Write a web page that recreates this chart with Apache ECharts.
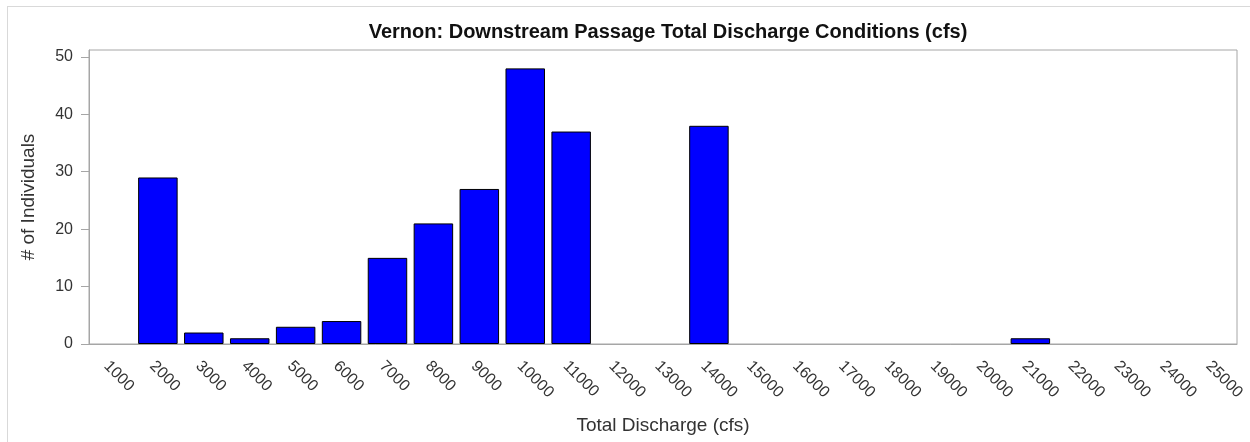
<!DOCTYPE html>
<html>
<head>
<meta charset="utf-8">
<script src="https://cdn.jsdelivr.net/npm/echarts@6/dist/echarts.min.js"></script>
<style>
html,body{margin:0;padding:0;background:#fff;}
#frame{position:absolute;left:7px;top:6px;width:1243px;height:436px;border-top:1px solid #d9d9d9;border-left:1px solid #d9d9d9;}
#chart{position:absolute;left:0;top:0;width:1250px;height:442px;}
</style>
</head>
<body>
<div id="frame"></div>
<div id="chart"></div>
<script>
const categories = ['1000','2000','3000','4000','5000','6000','7000','8000','9000','10000','11000','12000','13000','14000','15000','16000','17000','18000','19000','20000','21000','22000','23000','24000','25000'];
const counts = [0,29,2,1,3,4,15,21,27,48,37,0,0,38,0,0,0,0,0,0,1,0,0,0,0];
const yTicks = [0,10,20,30,40,50];

const chart = echarts.init(document.getElementById('chart'), null, {renderer:'canvas'});
const font = 'Arial, "Liberation Sans", sans-serif';
chart.setOption({
  animation:false,
  backgroundColor:'transparent',
  title:{
    text:'Vernon: Downstream Passage Total Discharge Conditions (cfs)',
    left:663, top:17, textAlign:'center',
    textStyle:{fontFamily:font, fontSize:20, fontWeight:'bold', color:'#111'}
  },
  grid:{left:89, right:13, top:50, bottom:98, show:true, borderColor:'#a6a6a6', borderWidth:1, backgroundColor:'transparent'},
  xAxis:{
    type:'category', data:categories,
    name:'Total Discharge (cfs)', nameLocation:'middle', nameGap:72,
    nameTextStyle:{fontFamily:font, fontSize:19, color:'#333'},
    axisLine:{lineStyle:{color:'#a6a6a6'}},
    axisTick:{alignWithLabel:true, length:8, lineStyle:{color:'#a6a6a6'}},
    axisLabel:{rotate:-45, interval:0, margin:14, verticalAlign:'top', fontFamily:font, fontSize:16, color:'#333'}
  },
  yAxis:{
    type:'value', min:0, max:51.2, interval:10,
    name:'# of Individuals', nameLocation:'middle', nameGap:51,
    nameTextStyle:{fontFamily:font, fontSize:19, color:'#333'},
    axisLine:{show:true, lineStyle:{color:'#a6a6a6'}},
    axisTick:{show:true, length:8, lineStyle:{color:'#a6a6a6'}},
    axisLabel:{showMaxLabel:false, fontFamily:font, fontSize:16, color:'#333', margin:16,
      formatter:v => yTicks.includes(v) ? String(v) : ''},
    splitLine:{show:false}
  },
  series:[{
    type:'bar', data:counts.map(v => v === 0 ? '-' : v), barCategoryGap:'14%',
    itemStyle:{color:'#0000ff', borderColor:'#000', borderWidth:1}
  }]
});
</script>
</body>
</html>
